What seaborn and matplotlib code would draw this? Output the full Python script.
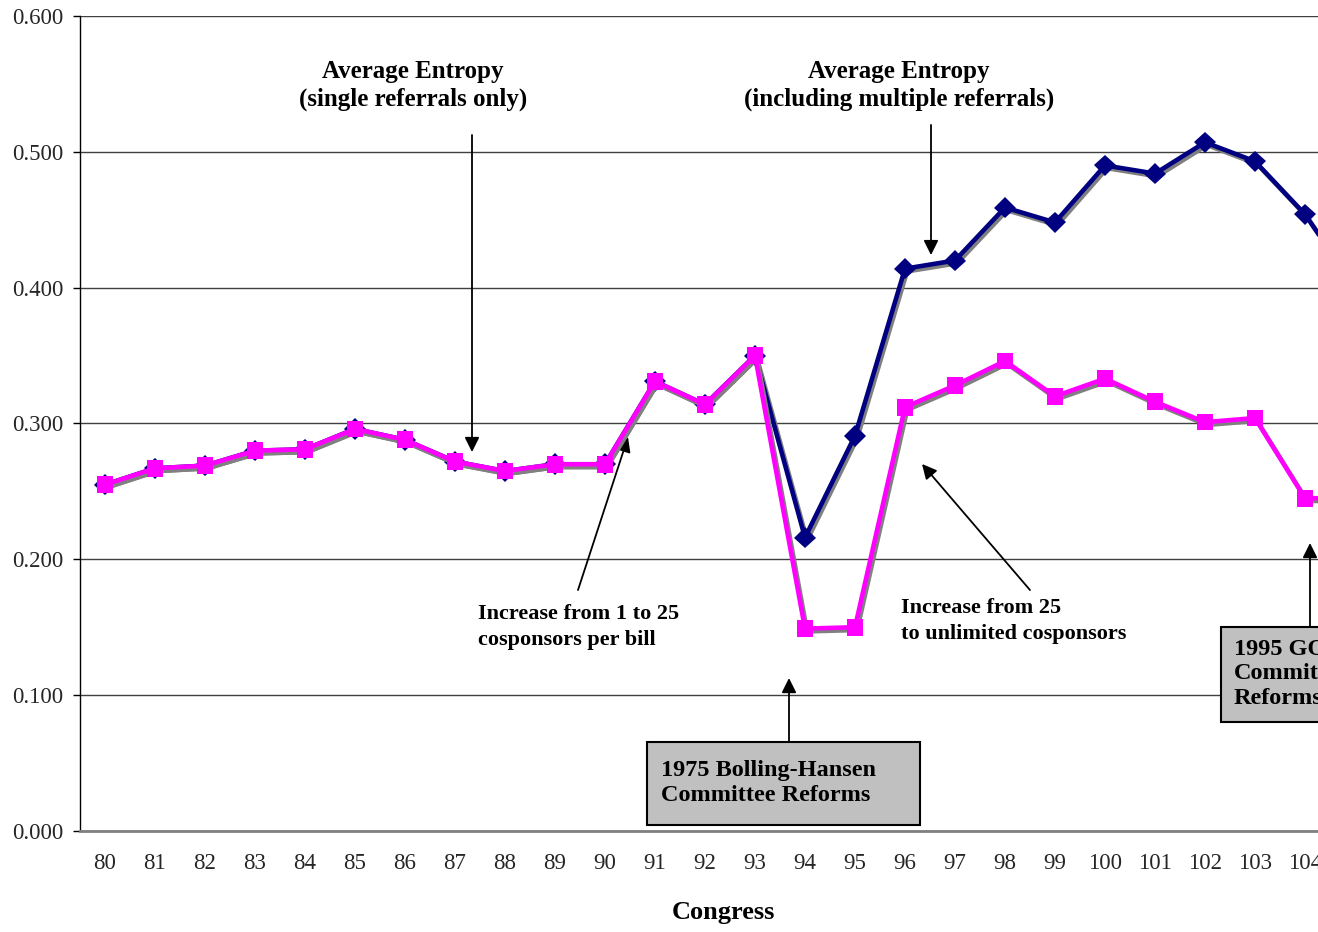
import matplotlib
matplotlib.use('Agg')
import matplotlib.pyplot as plt
import matplotlib.patheffects as pe
from matplotlib.patches import Rectangle
import seaborn as sns
import pandas as pd
import numpy as np

# ========== data
congress = [80, 81, 82, 83, 84, 85, 86, 87, 88, 89, 90, 91, 92,
            93, 94, 95, 96, 97, 98, 99, 100, 101, 102, 103, 104, 105]

single_ref = [0.255, 0.267, 0.269, 0.280, 0.281, 0.296, 0.288, 0.272, 0.265,
              0.270, 0.270, 0.331, 0.314, 0.350, 0.149, 0.150, 0.312, 0.328,
              0.346, 0.320, 0.333, 0.316, 0.301, 0.304, 0.245, 0.245]

multi_ref = [0.255, 0.267, 0.269, 0.280, 0.281, 0.296, 0.288, 0.272, 0.265,
             0.270, 0.270, 0.331, 0.314, 0.350, 0.216, 0.291, 0.414, 0.420,
             0.459, 0.448, 0.490, 0.484, 0.507, 0.493, 0.454, 0.400]

y_ticks = [0.0, 0.1, 0.2, 0.3, 0.4, 0.5, 0.6]

df = pd.DataFrame({'pos': np.arange(len(congress)),
                   'single': single_ref,
                   'multi': multi_ref})

# ========== plotting
sns.set_style('white')
plt.rcParams['font.family'] = ['Liberation Serif', 'DejaVu Serif']

fig = plt.figure(figsize=(13.18, 9.32), dpi=100)
ax = fig.add_axes([80 / 1318, 101 / 932, 1238 / 1318, 815 / 932])

shadow = [pe.SimpleLineShadow(offset=(1.5, -2), shadow_color='#808080', alpha=1),
          pe.Normal()]

sns.lineplot(data=df, x='pos', y='multi', ax=ax, color='#000080', lw=3.3,
             marker='D', markersize=11, markeredgewidth=0,
             path_effects=shadow, zorder=3)
sns.lineplot(data=df, x='pos', y='single', ax=ax, color='#FF00FF', lw=3.3,
             marker='s', markersize=12, markeredgewidth=0,
             path_effects=shadow, zorder=4)

ax.set_yticks(y_ticks)
ax.set_yticklabels([f'{v:.3f}' for v in y_ticks], fontsize=16.5)
ax.set_xticks(df['pos'])
ax.set_xticklabels([str(c) for c in congress], fontsize=16.5)
ax.set_xticks(np.arange(len(congress) + 1) - 0.5, minor=True)
# limits after the ticks, set_xticks widens the view otherwise
ax.set_xlim(-0.5, (1318 - 105) / 50)
ax.set_ylim(0, 0.6)
ax.tick_params(axis='x', which='major', length=0, pad=16)
ax.tick_params(axis='x', which='minor', length=5, width=1, color='black', direction='out')
ax.tick_params(axis='y', which='major', length=5, width=1, color='black', direction='out', pad=7, left=True)
ax.set_xlabel('')
ax.set_ylabel('')

ax.grid(axis='y', color='#404040', lw=1)
ax.grid(axis='x', visible=False)
ax.set_axisbelow(True)
for s in ['top', 'right']:
    ax.spines[s].set_visible(False)
ax.spines['left'].set_color('black')
ax.spines['left'].set_linewidth(1)
ax.spines['bottom'].set_color('#808080')
ax.spines['bottom'].set_linewidth(2)

# ========== annotations
arrow = dict(arrowstyle='-|>', color='black', lw=1.3, mutation_scale=22, shrinkA=0, shrinkB=0)
bold = dict(fontweight='bold', color='black')

ax.text(6.16, 0.5485, 'Average Entropy\n(single referrals only)', ha='center', va='center',
        fontsize=18, linespacing=1.25, **bold)
ax.annotate('', xy=(7.34, 0.279), xytext=(7.34, 0.5124), arrowprops=arrow)

ax.text(15.88, 0.5485, 'Average Entropy\n(including multiple referrals)', ha='center', va='center',
        fontsize=18, linespacing=1.25, **bold)
ax.annotate('', xy=(16.52, 0.424), xytext=(16.52, 0.5198), arrowprops=arrow)

ax.text(7.46, 0.1502, 'Increase from 1 to 25\ncosponsors per bill', ha='left', va='center',
        fontsize=16, linespacing=1.35, **bold)
ax.annotate('', xy=(10.46, 0.290), xytext=(9.46, 0.1774), arrowprops=arrow)

ax.text(15.92, 0.1546, 'Increase from 25\nto unlimited cosponsors', ha='left', va='center',
        fontsize=16, linespacing=1.35, **bold)
ax.annotate('', xy=(16.34, 0.2702), xytext=(18.5, 0.1774), arrowprops=arrow)

# 1975 reform box
ax.add_patch(Rectangle((10.84, 0.0044), 5.46, 0.0611, facecolor='#C0C0C0',
                       edgecolor='black', lw=1.5, zorder=5))
ax.text(11.12, 0.0353, '1975 Bolling-Hansen\nCommittee Reforms', ha='left', va='center',
        fontsize=17.5, linespacing=1.3, zorder=6, **bold)
ax.annotate('', xy=(13.68, 0.1126), xytext=(13.68, 0.0655), arrowprops=arrow)

# 1995 reform box (runs off the right edge, as in the source)
ax.add_patch(Rectangle((22.32, 0.0802), 5.0, 0.0698, facecolor='#C0C0C0',
                       edgecolor='black', lw=1.5, zorder=5))
ax.text(22.58, 0.1156, '1995 GOP\nCommittee\nReforms', ha='left', va='center',
        fontsize=17.5, linespacing=1.2, zorder=6, **bold)
ax.annotate('', xy=(24.1, 0.212), xytext=(24.1, 0.150), arrowprops=arrow)

fig.text(723 / 1318, 1 - 912 / 932, 'Congress', ha='center', va='center', fontsize=19, **bold)

plt.savefig('out.png', dpi=100)
